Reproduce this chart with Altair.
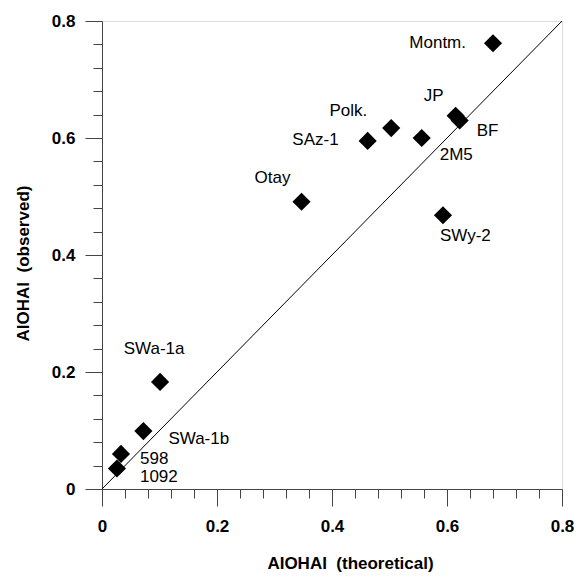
import altair as alt
import pandas as pd

# ---- data ----
names = ["Montm.", "JP", "BF", "2M5", "Polk.", "SAz-1", "Otay", "SWy-2",
         "SWa-1a", "SWa-1b", "598", "1092"]
theoretical = [0.680, 0.615, 0.622, 0.556, 0.503, 0.462, 0.347, 0.593,
               0.101, 0.072, 0.033, 0.026]
observed = [0.762, 0.638, 0.630, 0.600, 0.617, 0.595, 0.491, 0.468,
            0.183, 0.099, 0.060, 0.035]
tick_values = [0, 0.04, 0.08, 0.12, 0.16, 0.2, 0.24, 0.28, 0.32, 0.36, 0.4,
               0.44, 0.48, 0.52, 0.56, 0.6, 0.64, 0.68, 0.72, 0.76, 0.8]
line_x = [0, 0.8]
line_y = [0, 0.8]

# label placement (style): align, dx, dy
label_style = {
    "Montm.": ("right", -27, 0),
    "JP": ("center", -22, -20),
    "BF": ("left", 17, 11),
    "2M5": ("left", 18, 17),
    "Polk.": ("right", -24, -17),
    "SAz-1": ("right", -29, -1),
    "Otay": ("right", -11, -24),
    "SWy-2": ("left", -3, 21),
    "SWa-1a": ("center", -6, -33),
    "SWa-1b": ("left", 25, 8),
    "598": ("left", 19, 5),
    "1092": ("left", 23, 8),
}

df = pd.DataFrame({"name": names, "x": theoretical, "y": observed})
line_df = pd.DataFrame({"x": line_x, "y": line_y})

FONT = "Liberation Sans"
AX = "#444444"
IS_MAJOR = "abs(datum.value * 5 - round(datum.value * 5)) < 0.001"

xscale = alt.Scale(domain=[0, 0.8], nice=False, zero=False)
yscale = alt.Scale(domain=[0, 0.8], nice=False, zero=False)

common = dict(
    values=tick_values, tickCount=40, grid=False,
    tickSize={"condition": {"test": IS_MAJOR, "value": 17}, "value": 9},
    labelExpr=f"({IS_MAJOR}) ? datum.label : ''",
    format="~g", labelFlush=False, labelOverlap=False,
    labelFontSize=17, labelFontWeight="bold", labelFont=FONT, labelColor="black",
    tickColor=AX, domainColor=AX,
    titleFont=FONT, titleFontSize=17, titleFontWeight="bold", titleColor="black",
    titleAlign="center", titleBaseline="middle",
)

x_axis = alt.Axis(orient="bottom", labelPadding=12,
                  title="AIOHAI\u00a0 (theoretical)", titleX=248, titleY=74,
                  **common)
y_axis = alt.Axis(orient="left", labelPadding=10,
                  title="AIOHAI\u00a0 (observed)", titleX=-79, titleY=242,
                  titleAngle=270, **common)

line = alt.Chart(line_df).mark_line(color="black", strokeWidth=1).encode(
    x=alt.X("x:Q", scale=xscale, axis=x_axis),
    y=alt.Y("y:Q", scale=yscale, axis=y_axis),
)

points = alt.Chart(df).mark_point(shape="diamond", filled=True, color="black",
                                  size=330, opacity=1).encode(
    x=alt.X("x:Q", scale=xscale),
    y=alt.Y("y:Q", scale=yscale),
)

labels = []
for n in names:
    align, dx, dy = label_style[n]
    labels.append(
        alt.Chart(df).transform_filter(alt.datum.name == n).mark_text(
            align=align, baseline="middle", dx=dx, dy=dy, font=FONT,
            fontSize=17, color="black"
        ).encode(
            x=alt.X("x:Q", scale=xscale),
            y=alt.Y("y:Q", scale=yscale),
            text="name:N",
        )
    )

chart = alt.layer(line, points, *labels).properties(
    width=460, height=468,
    autosize=alt.AutoSizeParams(type="none"),
    padding={"left": 94, "top": 13, "right": 12, "bottom": 83},
).configure_view(stroke=AX, strokeWidth=1).configure(background="white")

chart.save("out.html", embed_options={"renderer": "svg", "actions": False})
